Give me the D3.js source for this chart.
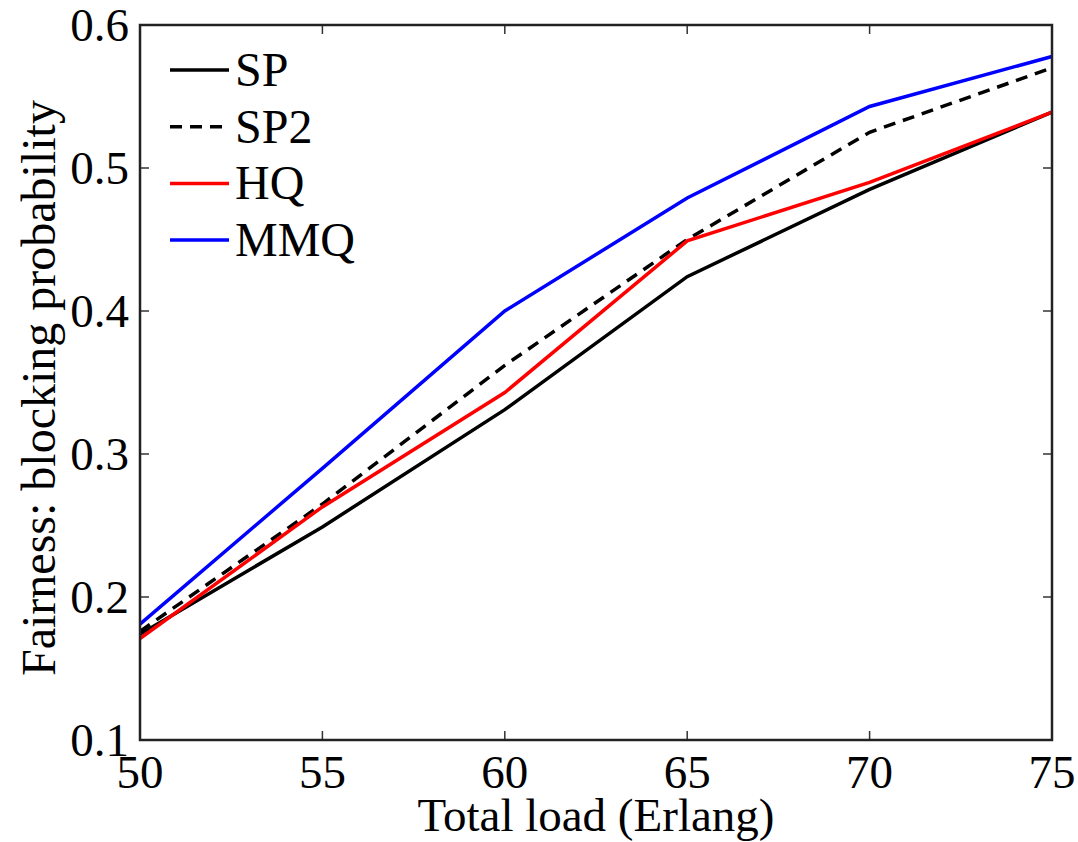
<!DOCTYPE html>
<html>
<head>
<meta charset="utf-8">
<script src="https://cdn.jsdelivr.net/npm/d3@7"></script>
<style>
  body { margin: 0; background: #fff; }
  svg { display: block; font-family: "Liberation Serif", "Times New Roman", serif; }
</style>
</head>
<body>
<svg width="1078" height="842"></svg>
<script>
// load values (Erlang) and the four curves
var loads = [50, 55, 60, 65, 70, 75];
var sp   = [0.174, 0.249, 0.331, 0.424, 0.485, 0.539];
var sp2  = [0.176, 0.265, 0.362, 0.450, 0.525, 0.570];
var hq   = [0.171, 0.263, 0.343, 0.449, 0.490, 0.539];
var mmq  = [0.181, 0.290, 0.400, 0.479, 0.543, 0.578];
var xTicks = [50, 55, 60, 65, 70, 75];
var yTicks = [0.1, 0.2, 0.3, 0.4, 0.5, 0.6];

var series = [
  { name: "SP",  values: sp,  color: "#000", dash: null },
  { name: "SP2", values: sp2, color: "#000", dash: "12,8" },
  { name: "HQ",  values: hq,  color: "#ff0000", dash: null },
  { name: "MMQ", values: mmq, color: "#0000ff", dash: null }
];

var svg = d3.select("svg");
var pLeft = 140, pTop = 25, pRight = 1052, pBottom = 740; // plot box

var x = d3.scaleLinear().domain([50, 75]).range([pLeft, pRight]);
var y = d3.scaleLinear().domain([0.1, 0.6]).range([pBottom, pTop]);

// ticks (inward, all four sides)
var tickLen = 9;
var ticks = svg.append("g").attr("stroke", "#333").attr("stroke-width", 1.5);
xTicks.forEach(function(t) {
  ticks.append("line").attr("x1", x(t)).attr("x2", x(t)).attr("y1", pBottom).attr("y2", pBottom - tickLen);
  ticks.append("line").attr("x1", x(t)).attr("x2", x(t)).attr("y1", pTop).attr("y2", pTop + tickLen);
});
yTicks.forEach(function(t) {
  ticks.append("line").attr("x1", pLeft).attr("x2", pLeft + tickLen).attr("y1", y(t)).attr("y2", y(t));
  ticks.append("line").attr("x1", pRight).attr("x2", pRight - tickLen).attr("y1", y(t)).attr("y2", y(t));
});

// lines
var line = d3.line()
  .x(function(d, i) { return x(loads[i]); })
  .y(function(d) { return y(d); });

series.forEach(function(s) {
  svg.append("path")
    .datum(s.values)
    .attr("fill", "none")
    .attr("stroke", s.color)
    .attr("stroke-width", 3.5)
    .attr("stroke-dasharray", s.dash)
    .attr("d", line);
});

// box
svg.append("rect")
  .attr("x", pLeft).attr("y", pTop)
  .attr("width", pRight - pLeft).attr("height", pBottom - pTop)
  .attr("fill", "none").attr("stroke", "#222").attr("stroke-width", 2.5);

// tick labels
svg.append("g").selectAll("text").data(xTicks).enter().append("text")
  .attr("x", function(d) { return x(d); })
  .attr("y", 788)
  .attr("text-anchor", "middle")
  .attr("font-size", 47)
  .text(function(d) { return d; });

svg.append("g").selectAll("text").data(yTicks).enter().append("text")
  .attr("x", 129)
  .attr("y", function(d) { return y(d) + 16; })
  .attr("text-anchor", "end")
  .attr("font-size", 47)
  .text(function(d) { return d3.format(".1f")(d); });

// axis titles
svg.append("text")
  .attr("x", 596).attr("y", 831)
  .attr("text-anchor", "middle")
  .attr("font-size", 47)
  .text("Total load (Erlang)");

svg.append("text")
  .attr("transform", "translate(55,388) rotate(-90)")
  .attr("text-anchor", "middle")
  .attr("font-size", 48)
  .text("Fairness: blocking probability");

// legend
var legend = svg.append("g");
series.forEach(function(s, i) {
  var ly = 70 + i * 56.7;
  legend.append("line")
    .attr("x1", 170).attr("x2", 229).attr("y1", ly).attr("y2", ly)
    .attr("stroke", s.color).attr("stroke-width", 3.5)
    .attr("stroke-dasharray", s.dash);
  legend.append("text")
    .attr("x", 235).attr("y", ly + 16)
    .attr("font-size", 48)
    .text(s.name);
});
</script>
</body>
</html>
